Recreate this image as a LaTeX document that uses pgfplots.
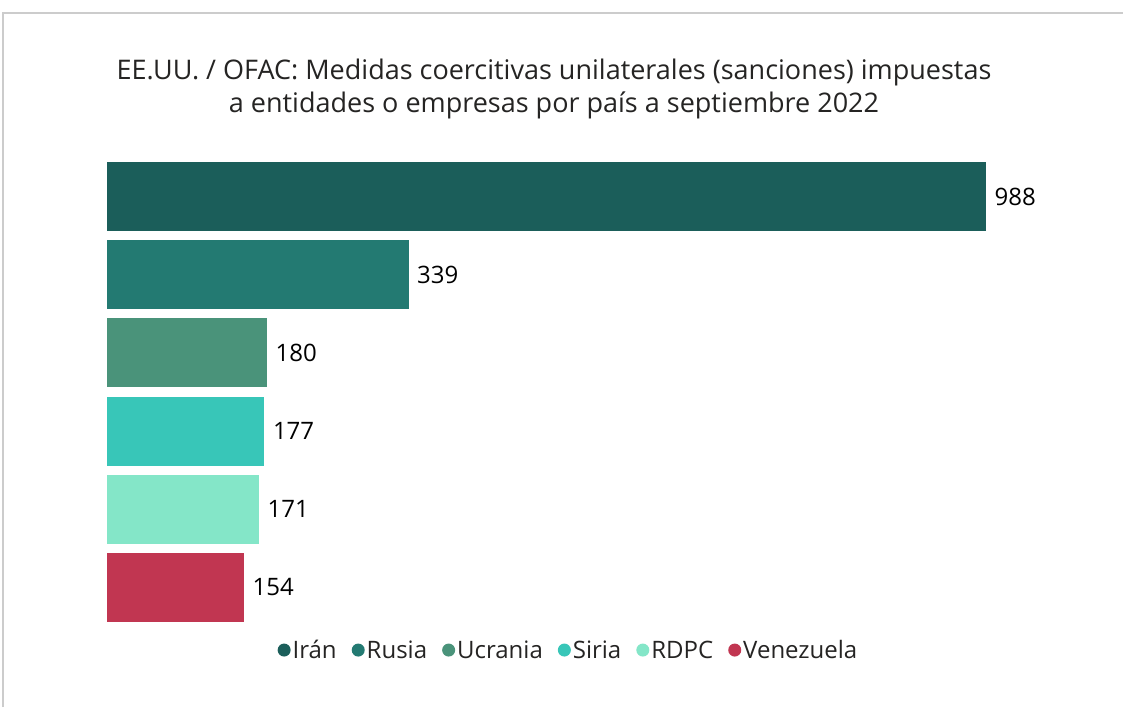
\documentclass[border=0pt]{standalone}
\usepackage{pgfplots}
\pgfplotsset{compat=1.18}
\usepackage{fontspec}
\setmainfont{Open Sans}
\definecolor{cIran}{HTML}{1B5E5A}
\definecolor{cRusia}{HTML}{237A72}
\definecolor{cUcrania}{HTML}{4A937A}
\definecolor{cSiria}{HTML}{38C6B8}
\definecolor{cRDPC}{HTML}{84E6C8}
\definecolor{cVen}{HTML}{C13651}
\definecolor{frame}{HTML}{CCCCCC}
\definecolor{txt}{HTML}{252423}
\begin{document}
\begin{tikzpicture}
\path[use as bounding box, fill=white] (0,0) rectangle (1123pt,707pt);
\draw[frame, line width=1.2pt] (3pt,0) -- (3pt,694pt) -- (1123pt,694pt);
\node[align=center, text=txt, font=\fontsize{27}{33}\selectfont] at (554pt,618pt)
  {EE.UU. / OFAC: Medidas coercitivas unilaterales (sanciones) impuestas\\a entidades o empresas por país a septiembre 2022};
\begin{axis}[
  at={(107pt,80.4pt)}, anchor=south west,
  width=879pt, height=469.2pt, scale only axis,
  xmin=0, xmax=988, ymin=-0.5, ymax=5.5,
  axis lines=none, clip=false,
  xbar, bar width=0.882, bar shift=0pt,
  nodes near coords,
  /pgf/number format/assume math mode=true,
  every node near coord/.append style={font=\fontsize{24}{26}\selectfont, text=black, anchor=west, xshift=5pt},
  legend columns=6,
  legend style={draw=none, at={(0.525,-0.05)}, anchor=center,
    font=\fontsize{24}{26}\selectfont, text=txt,
    /tikz/every odd column/.append style={column sep=0pt},
    /tikz/every even column/.append style={column sep=13pt}},
]
\addplot[fill=cIran, draw=none, legend image code/.code={\fill[cIran] (6pt,0pt) circle (6.5pt);}] coordinates {(988,5)};
\addlegendentry{Irán}
\addplot[fill=cRusia, draw=none, legend image code/.code={\fill[cRusia] (6pt,0pt) circle (6.5pt);}] coordinates {(339,4)};
\addlegendentry{Rusia}
\addplot[fill=cUcrania, draw=none, legend image code/.code={\fill[cUcrania] (6pt,0pt) circle (6.5pt);}] coordinates {(180,3)};
\addlegendentry{Ucrania}
\addplot[fill=cSiria, draw=none, legend image code/.code={\fill[cSiria] (6pt,0pt) circle (6.5pt);}] coordinates {(177,2)};
\addlegendentry{Siria}
\addplot[fill=cRDPC, draw=none, legend image code/.code={\fill[cRDPC] (6pt,0pt) circle (6.5pt);}] coordinates {(171,1)};
\addlegendentry{RDPC}
\addplot[fill=cVen, draw=none, legend image code/.code={\fill[cVen] (6pt,0pt) circle (6.5pt);}] coordinates {(154,0)};
\addlegendentry{Venezuela}
\end{axis}
\end{tikzpicture}
\end{document}
